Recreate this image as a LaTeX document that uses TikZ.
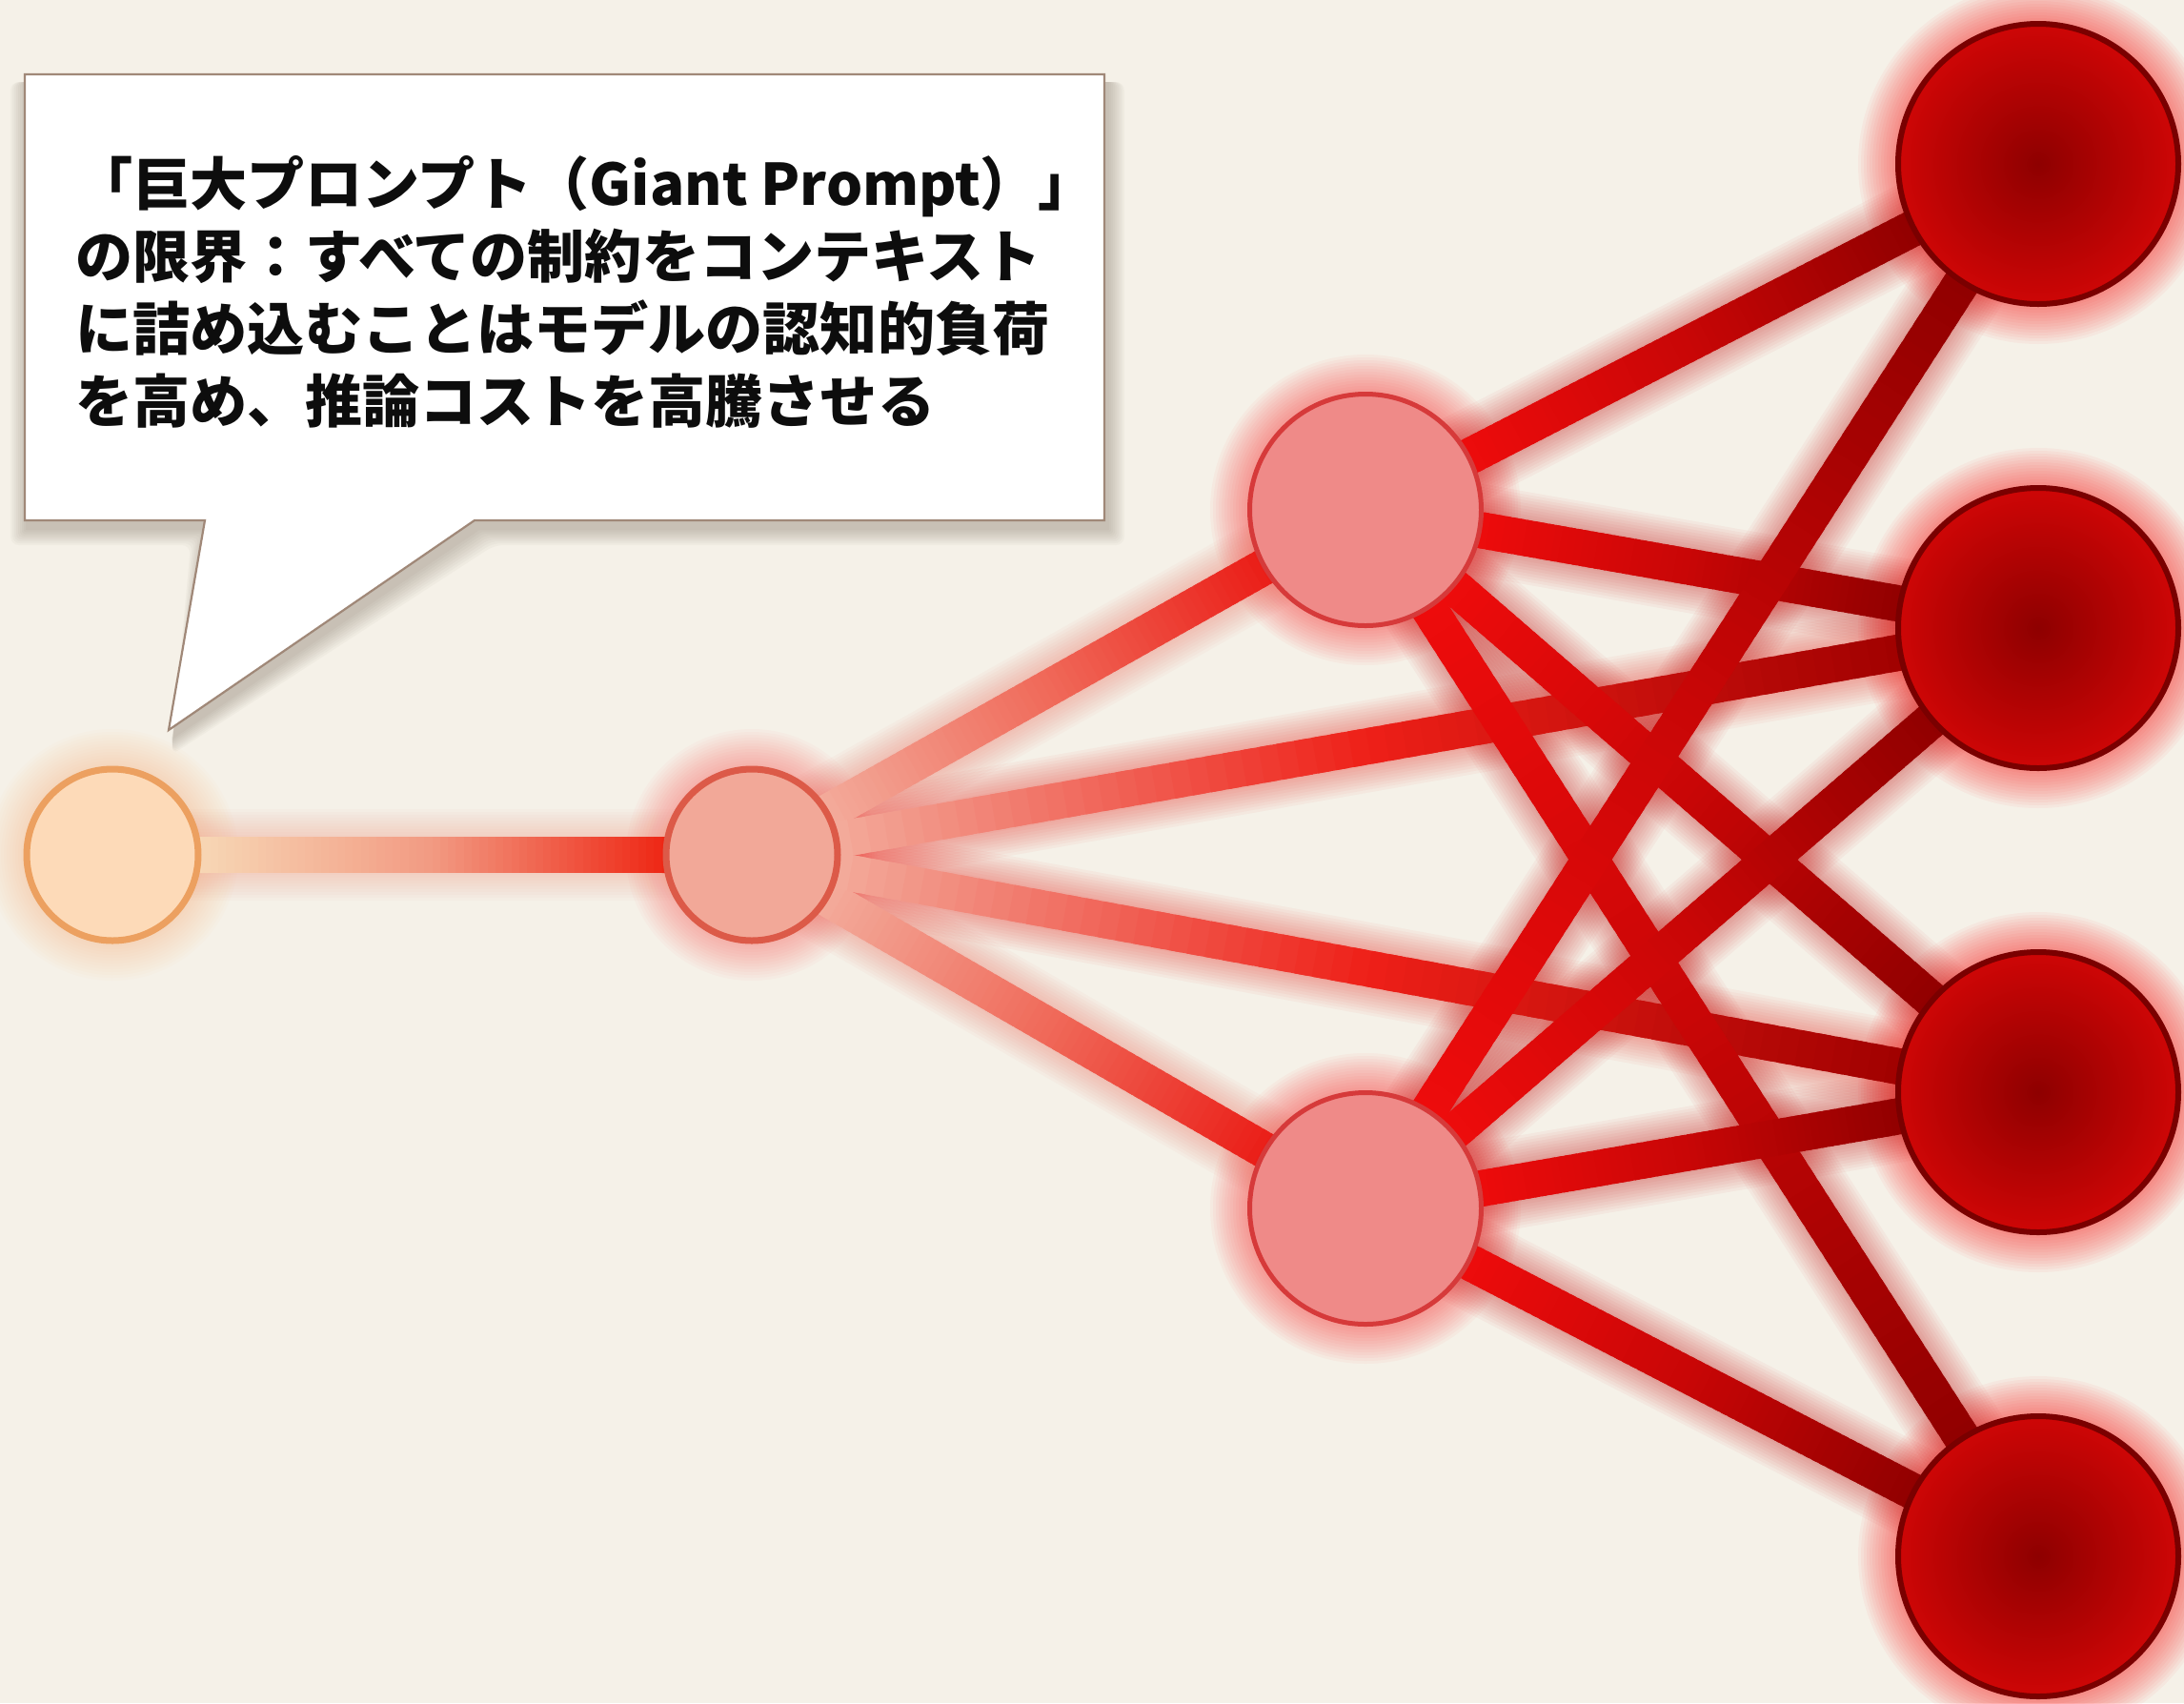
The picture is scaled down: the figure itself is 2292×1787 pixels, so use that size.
\documentclass[tikz,border=0pt]{standalone}
\usepackage{fontspec}
\newfontfamily\cjk{Noto Sans CJK JP}
\usetikzlibrary{calc}
\pgfdeclarelayer{bglayer}
\pgfdeclarelayer{glowlayer}
\pgfdeclarelayer{edgelayer}
\pgfsetlayers{bglayer,glowlayer,edgelayer,main}
\definecolor{bgc}{HTML}{F5F1E8}
\definecolor{aFill}{HTML}{FDDAB8}
\definecolor{aLine}{HTML}{ECA060}
\definecolor{bFill}{HTML}{F2A898}
\definecolor{bLine}{HTML}{DC5A48}
\definecolor{cFill}{HTML}{EF8A88}
\definecolor{cLine}{HTML}{D63A3A}
\definecolor{dIn}{HTML}{8E0000}
\definecolor{dOut}{HTML}{CE0606}
\definecolor{dLine}{HTML}{7A0000}
\definecolor{abS}{HTML}{F7D8B6}
\definecolor{abM}{HTML}{F29A82}
\definecolor{abE}{HTML}{EE2412}
\definecolor{bcS}{HTML}{F3AC9C}
\definecolor{bcM}{HTML}{F06A5A}
\definecolor{bcE}{HTML}{EA1C16}
\definecolor{bdS}{HTML}{F3AC9C}
\definecolor{bdM}{HTML}{EE2018}
\definecolor{bdE}{HTML}{A00000}
\definecolor{cdS}{HTML}{EE0C0C}
\definecolor{cdM}{HTML}{C80606}
\definecolor{cdE}{HTML}{900000}
\definecolor{glowR}{HTML}{FF1A1A}
\definecolor{glowO}{HTML}{F6A060}
\definecolor{boxLine}{HTML}{A08878}
\definecolor{shadowC}{HTML}{6A5A4A}

% #1 from node, #2 to node, #3 inset at from, #4 inset at to, #5 #6 #7 colours
\newcommand{\gradedge}[7]{%
  \coordinate (ge-s) at ($(#1.center)!#3!(#2.center)$);
  \coordinate (ge-e) at ($(#2.center)!#4!(#1.center)$);
  \begin{pgfonlayer}{glowlayer}
    \foreach \w in {4.2,4.8,...,10.2}{%
      \draw[line width=\w mm, draw=#6, opacity=0.04, line cap=round] (ge-s) -- (ge-e);}
  \end{pgfonlayer}
  \begin{pgfonlayer}{edgelayer}
    \foreach \k in {0,...,59}{%
      \pgfmathsetmacro\ta{\k/60}%
      \pgfmathsetmacro\tb{min(1,(\k+1.7)/60)}%
      \pgfmathsetmacro\tm{(\k+0.5)/60}%
      \ifdim\tm pt<0.5pt
        \pgfmathsetmacro\pc{200*\tm}\colorlet{segc}{#6!\pc!#5}%
      \else
        \pgfmathsetmacro\pc{200*\tm-100}\colorlet{segc}{#7!\pc!#6}%
      \fi
      \draw[edgeline, draw=segc] ($(ge-s)!\ta!(ge-e)$) -- ($(ge-s)!\tb!(ge-e)$);
    }
  \end{pgfonlayer}
}

% #1 node, #2 outer radius (px), #3 colour, #4 opacity
\newcommand{\nodeglow}[4]{%
  \begin{pgfonlayer}{glowlayer}
    \foreach \g in {3,6,...,39}{%
      \fill[#3, opacity=#4] (#1.center) circle[radius=#2+\g];}
  \end{pgfonlayer}
}

\newcommand{\calloutpath}{(26,78) -- (1159,78) -- (1159,546) -- (498,546) -- (177,766) -- (215,546) -- (26,546) -- cycle}

\begin{document}
\begin{tikzpicture}[x=0.1mm, y=-0.1mm,
  edgeline/.style={line width=3.8mm, line cap=butt},
  nodeA/.style={circle, minimum size=18mm, inner sep=0pt, outer sep=0pt, line width=0.7mm, draw=aLine, fill=aFill},
  nodeB/.style={circle, minimum size=18mm, inner sep=0pt, outer sep=0pt, line width=0.7mm, draw=bLine, fill=bFill},
  nodeC/.style={circle, minimum size=24.3mm, inner sep=0pt, outer sep=0pt, line width=0.5mm, draw=cLine, fill=cFill},
  nodeD/.style={circle, minimum size=29.4mm, inner sep=0pt, outer sep=0pt, line width=0.6mm, draw=dLine, inner color=dIn, outer color=dOut},
  callout/.style={fill=white, draw=boxLine, line width=0.22mm, line join=miter},
  calltext/.style={anchor=north west, inner sep=0pt, align=left, text=black!95,
    font=\cjk\bfseries\fontsize{17.1pt}{21.6pt}\selectfont}
]
\useasboundingbox (0,0) rectangle (2292,1787);
\begin{pgfonlayer}{bglayer}
  \fill[bgc] (0,0) rectangle (2292,1787);
\end{pgfonlayer}

% nodes
\node[nodeA] (a) at (118,897) {};
\node[nodeB] (b) at (789,897) {};
\node[nodeC] (c1) at (1433,535) {};
\node[nodeC] (c2) at (1433,1268) {};
\node[nodeD] (d1) at (2139,172) {};
\node[nodeD] (d2) at (2139,659) {};
\node[nodeD] (d3) at (2139,1146) {};
\node[nodeD] (d4) at (2139,1633) {};

\nodeglow{a}{93}{glowO}{0.025}
\nodeglow{b}{93}{glowR}{0.025}
\nodeglow{c1}{124}{glowR}{0.035}
\nodeglow{c2}{124}{glowR}{0.035}
\nodeglow{d1}{150}{glowR}{0.045}
\nodeglow{d2}{150}{glowR}{0.045}
\nodeglow{d3}{150}{glowR}{0.045}
\nodeglow{d4}{150}{glowR}{0.045}

% connectors
\gradedge{a}{b}{8.6mm}{8.6mm}{abS}{abM}{abE}
\gradedge{b}{c1}{8.6mm}{11.6mm}{bcS}{bcM}{bcE}
\gradedge{b}{c2}{8.6mm}{11.6mm}{bcS}{bcM}{bcE}
\gradedge{b}{d2}{8.6mm}{14.2mm}{bdS}{bdM}{bdE}
\gradedge{b}{d3}{8.6mm}{14.2mm}{bdS}{bdM}{bdE}
\gradedge{c1}{d1}{11.6mm}{14.2mm}{cdS}{cdM}{cdE}
\gradedge{c1}{d2}{11.6mm}{14.2mm}{cdS}{cdM}{cdE}
\gradedge{c1}{d3}{11.6mm}{14.2mm}{cdS}{cdM}{cdE}
\gradedge{c1}{d4}{11.6mm}{14.2mm}{cdS}{cdM}{cdE}
\gradedge{c2}{d1}{11.6mm}{14.2mm}{cdS}{cdM}{cdE}
\gradedge{c2}{d2}{11.6mm}{14.2mm}{cdS}{cdM}{cdE}
\gradedge{c2}{d3}{11.6mm}{14.2mm}{cdS}{cdM}{cdE}
\gradedge{c2}{d4}{11.6mm}{14.2mm}{cdS}{cdM}{cdE}

% callout with soft shadow
\foreach \s in {2,4,...,18}{%
  \fill[shadowC, opacity=0.04, shift={(3,8)}] [rounded corners=\s*0.05mm] (26-\s,78) -- (1159+\s,78) -- (1159+\s,546+\s) -- (498+\s,546+\s) -- (177,766+\s) -- (215-\s,546+\s) -- (26-\s,546+\s) -- cycle;}
\draw[callout] \calloutpath;
\node[calltext] (txt) at (79,163) {「巨大プロンプト（Giant Prompt）」\\
の限界：すべての制約をコンテキスト\\
に詰め込むことはモデルの認知的負荷\\
を高め、推論コストを高騰させる};
\end{tikzpicture}
\end{document}
